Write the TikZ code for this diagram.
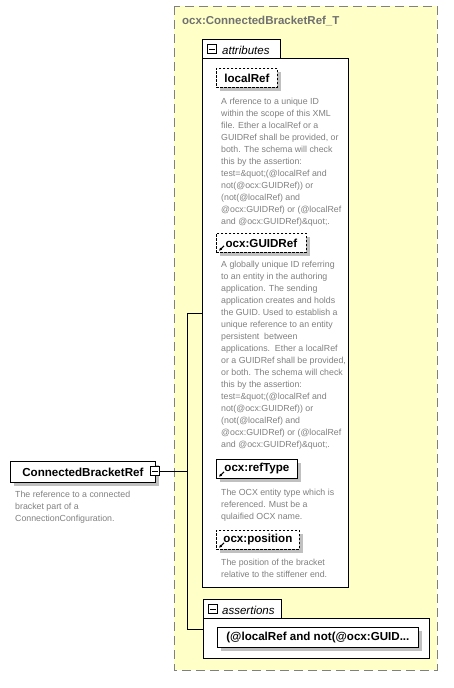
\documentclass[tikz,border=0pt]{standalone}
\usepackage{fontspec}
\setmainfont{Liberation Sans}
\usetikzlibrary{shadows}
\usetikzlibrary{arrows.meta}
\definecolor{typefill}{RGB}{255,255,200}
\definecolor{typeline}{RGB}{128,128,128}
\definecolor{titlegray}{RGB}{112,112,112}
\definecolor{descgray}{RGB}{128,128,128}
\definecolor{shadowgray}{RGB}{192,192,192}
\tikzset{typebox/.style = {draw=typeline, fill=typefill, line width=1pt, dash pattern=on 9pt off 5pt}}
\tikzset{groupbox/.style = {draw, fill=white, line width=0.8pt, anchor=north west, inner sep=0}}
\tikzset{elem/.style = {draw, fill=white, line width=0.8pt, anchor=north west, inner xsep=2pt, minimum height=19pt,
    font=\fontsize{11.6}{13}\selectfont\bfseries, drop shadow={shadow xshift=4pt, shadow yshift=-4pt, fill=shadowgray, opacity=1}}}
\tikzset{optelem/.style = {elem, dash pattern=on 2.5pt off 1.5pt}}
\tikzset{desc/.style = {anchor=north west, inner sep=0, align=left, text=descgray, font=\fontsize{8.8}{12}\selectfont}}
\tikzset{tabtext/.style = {anchor=base west, inner sep=0, font=\fontsize{11.5}{13}\selectfont\itshape}}
\tikzset{minusicon/.style = {draw, fill=white, line width=0.6pt, minimum size=9pt, inner sep=0}}
\tikzset{refarrow/.style = {line width=1pt, -{Latex[length=3pt,width=3pt]}}}

\begin{document}
\begin{tikzpicture}[x=1pt,y=-1pt]
    \useasboundingbox (0,0) rectangle (454,688);
    % the complex type
    \filldraw [typebox] (174,6) rectangle (437,670);
    \node [anchor=base west, inner sep=0, text=titlegray, font=\fontsize{11.5}{13}\selectfont\bfseries] (typename) at (182,24) {ocx:ConnectedBracketRef\_T};

    % attributes
    \node [groupbox, minimum width=146pt, minimum height=529pt] (attrs) at (202,58) {};
    \node [groupbox, minimum width=78pt, minimum height=19pt] (attrtab) at (202,39) {};
    \node [minusicon] (attricon) at (212,49) {};
    \draw ([xshift=2pt]attricon.west) -- ([xshift=-2pt]attricon.east);
    \node [tabtext] (attrlabel) at (222,54) {attributes};

    \node [optelem, minimum width=61pt] (localref) at (216,68) {localRef};
    \node [desc] (localrefdesc) at (221,97.5) {A rference to a unique ID\\within the scope of this XML\\file. Ether a localRef or a\\GUIDRef shall be provided, or\\both. The schema will check\\this by the assertion:\\test=\&quot;(@localRef and\\not(@ocx:GUIDRef)) or\\(not(@localRef) and\\@ocx:GUIDRef) or (@localRef\\and @ocx:GUIDRef)\&quot;.};

    \node [optelem, minimum width=90pt] (guidref) at (216,233) {ocx:GUIDRef};
    \draw [refarrow] ([shift={(8,-7)}]guidref.south west) -- ([shift={(3,-2)}]guidref.south west);
    \node [desc] (guidrefdesc) at (221,260.5) {A globally unique ID referring\\to an entity in the authoring\\application. The sending\\application creates and holds\\the GUID. Used to establish a\\unique reference to an entity\\persistent\ \ between\\applications.\ \ Ether a localRef\\or a GUIDRef shall be provided,\\or both. The schema will check\\this by the assertion:\\test=\&quot;(@localRef and\\not(@ocx:GUIDRef)) or\\(not(@localRef) and\\@ocx:GUIDRef) or (@localRef\\and @ocx:GUIDRef)\&quot;.};

    \node [elem, minimum width=81pt] (reftype) at (216,459) {ocx:refType};
    \draw [refarrow] ([shift={(8,-7)}]reftype.south west) -- ([shift={(3,-2)}]reftype.south west);
    \node [desc] (reftypedesc) at (221,488.5) {The OCX entity type which is\\referenced. Must be a\\qulaified OCX name.};

    \node [optelem, minimum width=83pt] (position) at (216,530) {ocx:position};
    \draw [refarrow] ([shift={(8,-7)}]position.south west) -- ([shift={(3,-2)}]position.south west);
    \node [desc] (positiondesc) at (221,558.5) {The position of the bracket\\relative to the stiffener end.};

    % assertions
    \node [groupbox, minimum width=226pt, minimum height=40pt] (asserts) at (203,618) {};
    \node [groupbox, minimum width=78pt, minimum height=19pt] (asserttab) at (203,599) {};
    \node [minusicon] (asserticon) at (213,609) {};
    \draw ([xshift=2pt]asserticon.west) -- ([xshift=-2pt]asserticon.east);
    \node [tabtext] (assertlabel) at (222,614) {assertions};
    \node [elem, minimum width=201pt, minimum height=20pt] (assertion) at (217,627) {(@localRef and not(@ocx:GUID...};

    % the element
    \node [elem, minimum width=145pt, minimum height=21pt] (root) at (10,461) {ConnectedBracketRef};
    \node [minusicon] (rooticon) at (155,471) {};
    \draw ([xshift=2pt]rooticon.west) -- ([xshift=-2pt]rooticon.east);
    \node [desc] (rootdesc) at (15,490.5) {The reference to a connected\\bracket part of a\\ConnectionConfiguration.};

    \coordinate (fork) at (187,471);
    \coordinate (attrsin) at (attrs.west |- 0,313);
    \coordinate (assertsin) at (asserts.west |- 0,629);
    \draw [line width=0.8pt] (rooticon.east) -- (fork) |- (attrsin);
    \draw [line width=0.8pt] (fork) |- (assertsin);
\end{tikzpicture}
\end{document}
